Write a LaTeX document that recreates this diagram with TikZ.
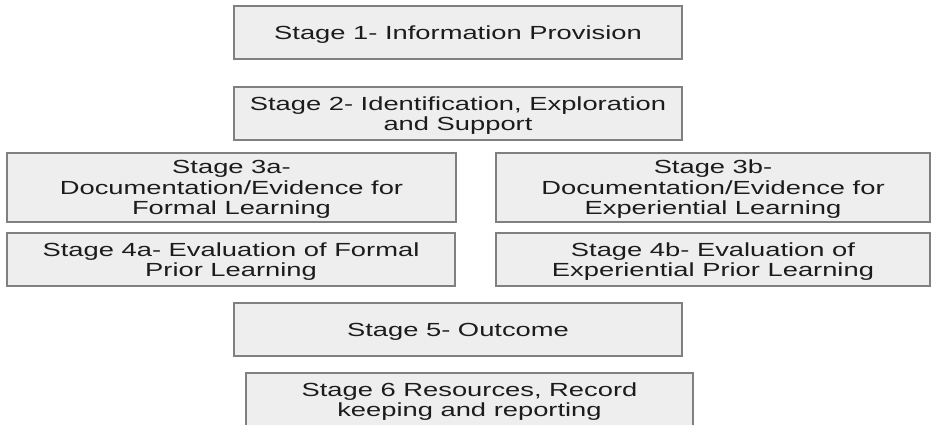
\documentclass[tikz,border=0pt]{standalone}
\usepackage{fontspec}
\setmainfont{Liberation Sans}
\definecolor{boxfill}{HTML}{EEEEEE}
\definecolor{boxline}{HTML}{808080}
\definecolor{stagetext}{HTML}{1C1C1C}
\tikzset{
  stagebox/.style={draw=boxline, fill=boxfill, line width=0.8pt, xscale=1.44,
    inner sep=0pt, align=center, text=stagetext, text depth=0pt,
    minimum height=1.06cm, font=\fontsize{10.8}{11.7}\selectfont},
  wide/.style={minimum width=6.222cm},
  tall/.style={minimum height=1.38cm}
}
\begin{document}
\begin{tikzpicture}
\useasboundingbox (0,0) rectangle (18.66,8.5);
\clip (0,0) rectangle (18.66,8.5);

\node[stagebox,wide] (s1) at (9.16,7.85) {Stage 1- Information Provision};
\node[stagebox,wide] (s2) at (9.16,6.23) {Stage 2- Identification, Exploration\\and Support};

% the two parallel tracks
\node[stagebox,tall,minimum width=6.236cm] (s3a) at (4.63,4.75)
  {Stage 3a-\\Documentation/Evidence for\\Formal Learning};
\node[stagebox,tall,minimum width=6.028cm] (s3b) at (14.26,4.75)
  {Stage 3b-\\Documentation/Evidence for\\Experiential Learning};
\node[stagebox,wide] (s4a) at (4.62,3.31) {Stage 4a- Evaluation of Formal\\Prior Learning};
\node[stagebox,minimum width=6.028cm] (s4b) at (14.26,3.31) {Stage 4b- Evaluation of\\Experiential Prior Learning};

\node[stagebox,wide] (s5) at (9.16,1.91) {Stage 5- Outcome};
\node[stagebox,minimum width=6.208cm] (s6) at (9.39,0.51)
  {Stage 6 Resources, Record\\keeping and reporting};
\end{tikzpicture}
\end{document}
